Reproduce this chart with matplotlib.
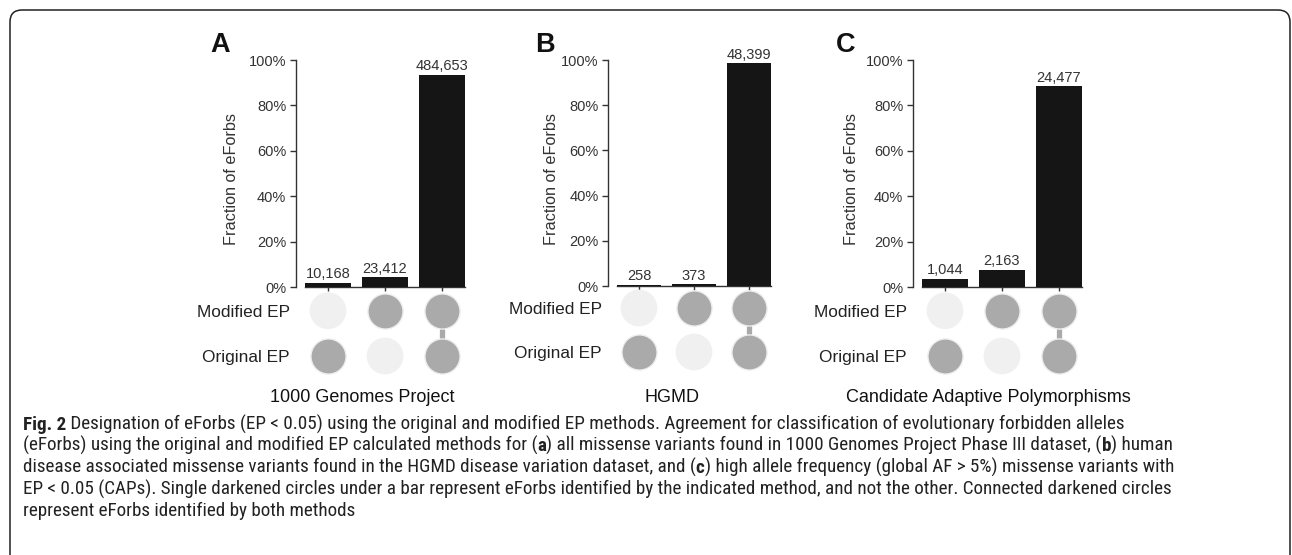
import os
import matplotlib
matplotlib.use('Agg')
import matplotlib.pyplot as plt
from matplotlib import font_manager
from matplotlib.font_manager import FontProperties
from matplotlib.patches import FancyBboxPatch

# ---------------- data ----------------
panel_letters = ['A', 'B', 'C']
panel_titles = ['1000 Genomes Project', 'HGMD', 'Candidate Adaptive Polymorphisms']
counts_A = [10168, 23412, 484653]
counts_B = [258, 373, 48399]
counts_C = [1044, 2163, 24477]
set_names = ['Modified EP', 'Original EP']
# membership of each bar (column) in [Modified EP, Original EP]
membership = [[0, 1], [1, 0], [1, 1]]
ytick_values = [0, 20, 40, 60, 80, 100]

# caption: list of lines, each a list of (text, is_bold) segments
caption_lines = [
    [("Fig. 2", True), (" Designation of eForbs (EP < 0.05) using the original and modified EP methods. Agreement for classification of evolutionary forbidden alleles", False)],
    [("(eForbs) using the original and modified EP calculated methods for (", False), ("a", True),
     (") all missense variants found in 1000 Genomes Project Phase III dataset, (", False), ("b", True), (") human", False)],
    [("disease associated missense variants found in the HGMD disease variation dataset, and (", False), ("c", True),
     (") high allele frequency (global AF > 5%) missense variants with", False)],
    [("EP < 0.05 (CAPs). Single darkened circles under a bar represent eForbs identified by the indicated method, and not the other. Connected darkened circles", False)],
    [("represent eForbs identified by both methods", False)],
]

# ---------------- layout (pixels) ----------------
W, H = 1292, 555
layout = {
    'A': dict(c0=328, sp=57, y0=287.3, y100=60, r1=310.7, r2=356, title_x=362, letter_x=210, ylab_x=231),
    'B': dict(c0=639, sp=55, y0=286, y100=60, r1=308, r2=352, title_x=672, letter_x=535, ylab_x=551),
    'C': dict(c0=945, sp=57, y0=287.3, y100=60, r1=310.7, r2=356, title_x=988, letter_x=836, ylab_x=852),
}

plt.rcParams['font.family'] = ['Liberation Sans', 'DejaVu Sans']

# pick a condensed font for the caption if one is installed
cands = [('Liberation Sans Narrow', 'normal'), ('Roboto Condensed', 'normal'), ('Open Sans Condensed', 'normal'),
         ('Noto Sans', 'condensed'), ('Open Sans', 'condensed'), ('Roboto', 'condensed'),
         ('DejaVu Sans', 'condensed')]
cap_reg, cap_bold, condensed = None, None, False
for fam, st in cands:
    try:
        path = font_manager.findfont(FontProperties(family=fam, stretch=st), fallback_to_default=False)
    except Exception:
        continue
    base = os.path.basename(path).lower()
    if fam.lower().replace(' ', '') in base.replace(' ', '').replace('-', '') or 'condensed' in base or 'narrow' in base:
        if st == 'normal' or 'condensed' in base:
            try:
                bpath = font_manager.findfont(FontProperties(family=fam, stretch=st, weight='bold'),
                                              fallback_to_default=False)
            except Exception:
                bpath = path
            cap_reg, cap_bold, condensed = FontProperties(fname=path), FontProperties(fname=bpath), True
            break
if cap_reg is None:
    cap_reg = FontProperties(family='Liberation Sans')
    cap_bold = FontProperties(family='Liberation Sans', weight='bold')

fig = plt.figure(figsize=(W / 100, H / 100), dpi=100)

def fx(x):
    return x / W

def fy(y):
    return 1 - y / H

BAR_COLOR = '#151515'
DOT_DARK = '#aaaaaa'
DOT_LIGHT = '#f0f0f0'
TXT = '#333333'
XL, XR = -0.56, 2.44

for letter, title, counts in zip(panel_letters, panel_titles, [counts_A, counts_B, counts_C]):
    L = layout[letter]
    total = sum(counts)
    fracs = [c / total * 100 for c in counts]
    left_px = L['c0'] + XL * L['sp']
    width_px = (XR - XL) * L['sp']

    ax = fig.add_axes([fx(left_px), fy(L['y0']), width_px / W, (L['y0'] - L['y100']) / H])
    xs = list(range(len(counts)))
    bars = ax.bar(xs, fracs, width=0.8, color=BAR_COLOR, zorder=3)
    ax.bar_label(bars, labels=[f'{c:,}' for c in counts], padding=1, fontsize=10.5, color=TXT)
    ax.set_xlim(XL, XR)
    ax.set_ylim(0, 100)
    ax.set_yticks(ytick_values)
    ax.set_yticklabels([f'{v}%' for v in ytick_values], fontsize=10.5, color=TXT)
    ax.set_xticks(xs)
    ax.set_xticklabels([])
    for s in ['top', 'right']:
        ax.spines[s].set_visible(False)
    ax.spines['left'].set_bounds(0, 100)
    ax.spines['bottom'].set_bounds(-0.4, 2.4)
    for s in ['left', 'bottom']:
        ax.spines[s].set_color('#333333')
        ax.spines[s].set_linewidth(1.0)
    ax.tick_params(axis='y', length=4, width=1, color='#333333', pad=3)
    ax.tick_params(axis='x', length=3, width=1, color='#333333')
    ax.patch.set_alpha(0)

    fig.text(fx(L['ylab_x']), fy(179), 'Fraction of eForbs', rotation=90, ha='center', va='center',
             fontsize=11.7, color=TXT)

    # matrix
    d = L['r2'] - L['r1']
    top_px = L['r1'] - 0.6 * d
    bot_px = L['r2'] + 0.6 * d
    mx = fig.add_axes([fx(left_px), fy(bot_px), width_px / W, (bot_px - top_px) / H])
    mx.set_xlim(XL, XR)
    mx.set_ylim(1.6, -0.6)
    for i, mem in enumerate(membership):
        active = [j for j, m in enumerate(mem) if m]
        if len(active) > 1:
            mx.plot([i, i], [min(active), max(active)], color=DOT_DARK, lw=3.8, zorder=1,
                    solid_capstyle='butt')
        for j, m in enumerate(mem):
            if m:
                mx.scatter([i], [j], s=640, color=DOT_DARK, edgecolor='#eeeeee', linewidth=1.0, zorder=2)
            else:
                mx.scatter([i], [j], s=700, color=DOT_LIGHT, edgecolor='none', zorder=2)
    mx.set_yticks([0, 1])
    mx.set_yticklabels(set_names, fontsize=12.4, color='#222222')
    mx.set_xticks([])
    mx.tick_params(axis='y', length=0, pad=4.5)
    for s in mx.spines.values():
        s.set_visible(False)
    mx.patch.set_alpha(0)

    fig.text(fx(L['title_x']), fy(397), title, ha='center', va='center', fontsize=13, color='#111111')
    fig.text(fx(L['letter_x']), fy(45), letter, ha='left', va='center', fontsize=19.5,
             fontweight='bold', color='#111111')

# caption (segments chained along each line)
cax = fig.add_axes([0, 0, 1, 1])
cax.set_xlim(0, W)
cax.set_ylim(H, 0)
cax.axis('off')


def draw_caption(size):
    arts = []
    for k, line in enumerate(caption_lines):
        prev = None
        for seg, bold in line:
            fp = (cap_bold if bold else cap_reg).copy()
            fp.set_size(size)
            if prev is None:
                t = cax.text(23, 429.5 + 21.6 * k, seg, ha='left', va='baseline',
                             fontproperties=fp, color='#222222')
            else:
                t = cax.annotate(seg, xy=(1, 0), xycoords=prev, ha='left', va='bottom',
                                 fontproperties=fp, color='#222222')
            arts.append(t)
            prev = t
    return arts


cap_size = 12.0 if condensed else 10.6
arts = draw_caption(cap_size)
fig.canvas.draw()
r = fig.canvas.get_renderer()
line1_end = max(a.get_window_extent(r).x1 for a in arts[:2])
width_now = line1_end - 23
scale = 1104 / width_now if width_now > 0 else 1.0
if abs(scale - 1) > 0.01:
    for a in arts:
        a.remove()
    arts = draw_caption(cap_size * scale)

# frame
frame = FancyBboxPatch((0.10, -0.5), 12.80, 5.95, boxstyle='round,pad=0,rounding_size=0.12',
                       transform=fig.dpi_scale_trans, fill=False, edgecolor='#222222', linewidth=1.1)
fig.patches.append(frame)

fig.savefig('out.png', dpi=100)
